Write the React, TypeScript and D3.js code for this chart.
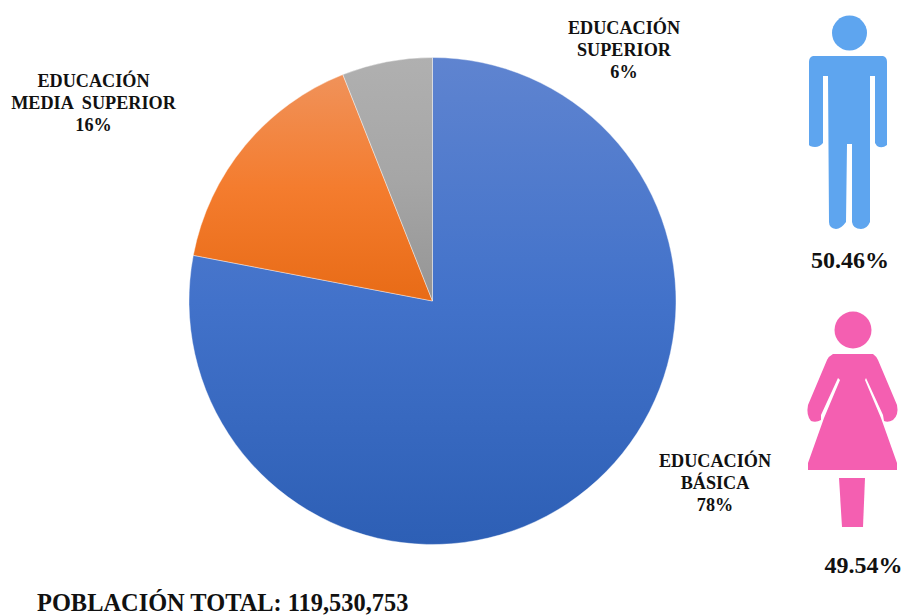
import React from "react";
import * as d3 from "d3";

const levels = ["Educación básica", "Educación media superior", "Educación superior"];
const shares = [78, 16, 6];
const sliceTop = ["#5f84d0", "#f0925a", "#b0b0b0"];
const sliceMid = ["#4272ca", "#f47c2e", "#a6a6a6"];
const sliceBottom = ["#2d5fb5", "#e86b16", "#959595"];

const captions = [
  { lines: ["EDUCACIÓN", "BÁSICA", "78%"], x: 715, y: 467 },
  { lines: ["EDUCACIÓN", "MEDIA  SUPERIOR", "16%"], x: 93.5, y: 87 },
  { lines: ["EDUCACIÓN", "SUPERIOR", "6%"], x: 624, y: 33.5 },
];

const manShare = "50.46%";
const womanShare = "49.54%";
const totalLabel = "POBLACIÓN TOTAL: 119,530,753";

const WIDTH = 907;
const HEIGHT = 616;
const CX = 432.5;
const CY = 301;
const RADIUS = 243.5;

const serif = "'Liberation Serif', 'Times New Roman', serif";

// Man pictogram outline: shoulders, arms, torso and the two legs.
const manBody =
  "M813 56 L883 56 Q887 57 887 62 L887 145 Q882 149 877 146 L875 143 L875 76 L870 76 L870 222 " +
  "Q867 229 861 229 Q853 229 852 222 L852 144 L847 144 L846 222 Q841 229 836 229 Q829 228 829 222 " +
  "L828 76 L823 76 L823 143 Q818 149 810 146 L809 145 L809 62 Q809 57 813 56 Z";

// Woman pictogram outline: bodice, arms with slim gaps to the skirt, and the flared hem.
const womanDress =
  "M833 354 L873 354 Q876 356 878 360 L897 405 Q899 415 893 420 Q888 423 884 421 L883 415 L866 378 " +
  "L865 380 L881 418 L897 463 L897 470 L808 470 L808 463 L824 418 L840 380 L838 378 L821 415 " +
  "L821 420 Q816 423 811 421 Q806 415 808 405 L827 360 Q829 356 833 354 Z";
const womanLeg = "M839 478 L865 478 L863 527 L842 527 Z";

export default function App() {
  const arcs = d3
    .pie<number>()
    .sort(null)
    .value((d) => d)(shares);
  const arc = d3
    .arc<d3.PieArcDatum<number>>()
    .innerRadius(0)
    .outerRadius(RADIUS);

  return (
    <svg
      width={WIDTH}
      height={HEIGHT}
      viewBox={`0 0 ${WIDTH} ${HEIGHT}`}
      style={{ position: "absolute", left: 0, top: 0, background: "#fff" }}
    >
      <defs>
        {levels.map((_, i) => (
          <linearGradient key={i} id={`slice-${i}`} x1="0" y1="0" x2="0" y2="1">
            <stop offset="0" stopColor={sliceTop[i]} />
            <stop offset="0.5" stopColor={sliceMid[i]} />
            <stop offset="1" stopColor={sliceBottom[i]} />
          </linearGradient>
        ))}
      </defs>

      <g transform={`translate(${CX},${CY})`}>
        {arcs.map((a, i) => (
          <path
            key={levels[i]}
            d={arc(a) ?? ""}
            fill={`url(#slice-${i})`}
            stroke="#fff"
            strokeWidth={0.4}
          />
        ))}
      </g>

      <g fontFamily={serif} fontWeight="bold" fontSize={18.2} fill="#111" textAnchor="middle">
        {captions.map((c) =>
          c.lines.map((line, j) => (
            <text key={c.x + line} x={c.x} y={c.y + j * 22} xmlSpace="preserve">
              {line}
            </text>
          ))
        )}
      </g>

      <circle cx={849.5} cy={33} r={17.5} fill="#5ea5ef" />
      <path d={manBody} fill="#5ea5ef" />

      <circle cx={853} cy={330} r={18.5} fill="#f45fb1" />
      <path d={womanDress} fill="#f45fb1" />
      <path d={womanLeg} fill="#f45fb1" />

      <g fontFamily={serif} fontWeight="bold" fontSize={24} fill="#111">
        <text x={850} y={268} textAnchor="middle">{manShare}</text>
        <text x={863.5} y={573} textAnchor="middle">{womanShare}</text>
        <text x={37} y={610.5} fontSize={24.4}>{totalLabel}</text>
      </g>
    </svg>
  );
}
